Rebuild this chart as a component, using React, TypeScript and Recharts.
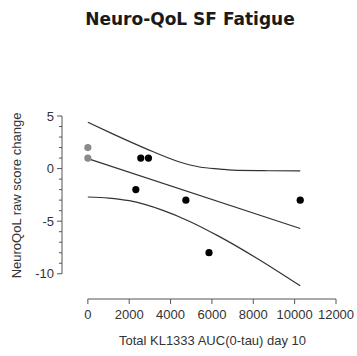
import React from 'react';
import { ComposedChart, Line, Scatter, XAxis, YAxis, ReferenceLine } from 'recharts';

// Observations (x = Total KL1333 AUC(0-tau) day 10, y = NeuroQoL raw score change)
const grayPoints = [
  { x: 0, y: 2 },
  { x: 0, y: 1 },
];
const blackPoints = [
  { x: 2320, y: -2 },
  { x: 2560, y: 1 },
  { x: 2930, y: 1 },
  { x: 4740, y: -3 },
  { x: 5860, y: -8 },
  { x: 10270, y: -3 },
];
// Regression line and its confidence band
const fitLine = [
  { x: 0, y: 0.95 },
  { x: 10270, y: -5.7 },
];
const upperBand = [
  { x: 0, y: 4.4 },
  { x: 1200, y: 3.3 },
  { x: 2800, y: 1.9 },
  { x: 4400, y: 0.65 },
  { x: 5400, y: 0.15 },
  { x: 6400, y: -0.05 },
  { x: 7000, y: -0.15 },
  { x: 8500, y: -0.2 },
  { x: 10270, y: -0.22 },
];
const lowerBand = [
  { x: 0, y: -2.7 },
  { x: 1000, y: -2.8 },
  { x: 2000, y: -3.05 },
  { x: 3600, y: -3.95 },
  { x: 4900, y: -5.0 },
  { x: 6300, y: -6.4 },
  { x: 8150, y: -8.5 },
  { x: 10270, y: -11.15 },
];
const xTicks = [0, 2000, 4000, 6000, 8000, 10000, 12000];
const yTicks = [-10, -9, -8, -7, -6, -5, -4, -3, -2, -1, 0, 1, 2, 3, 4, 5];
const yMajor = [-10, -5, 0, 5];

const X_MIN = -1250;
const X_MAX = 12000;
const Y_MIN = -12.4;
const Y_MAX = 5;

const AXIS = '#555';
const TEXT = '#333';
const FONT = '"Liberation Sans", Arial, sans-serif';

const YTick = (props: any) => {
  const { x, y, payload } = props;
  const major = yMajor.includes(payload.value);
  return (
    <g>
      <line x1={x} x2={x - (major ? 5 : 3)} y1={y} y2={y} stroke={AXIS} strokeWidth={1} />
      {major && (
        <text x={x - 8} y={y} dy="0.36em" textAnchor="end" fontSize={13} fontFamily={FONT} fill={TEXT}>
          {payload.value}
        </text>
      )}
    </g>
  );
};

const dot = (fill: string) => (props: any) => (
  <circle cx={props.cx} cy={props.cy} r={3.6} fill={fill} />
);

export default function App() {
  return (
    <div style={{ position: 'absolute', left: 0, top: 0, width: 357, height: 356 }}>
      <ComposedChart
        width={357}
        height={356}
        margin={{ top: 116, right: 21, left: 22, bottom: 7 }}
      >
        <XAxis
          type="number"
          dataKey="x"
          domain={[X_MIN, X_MAX]}
          ticks={xTicks}
          interval={0}
          allowDataOverflow
          axisLine={false}
          tickLine={{ stroke: AXIS }}
          tickSize={5}
          tickMargin={6}
          height={50}
          tick={{ fontSize: 13, fontFamily: FONT, fill: TEXT }}
        />
        <YAxis
          type="number"
          dataKey="y"
          domain={[Y_MIN, Y_MAX]}
          ticks={yTicks}
          interval={0}
          allowDataOverflow
          axisLine={false}
          tickLine={false}
          tickSize={0}
          tickMargin={0}
          width={40}
          tick={<YTick />}
        />
        <ReferenceLine
          segment={[{ x: X_MIN, y: -10 }, { x: X_MIN, y: 5 }]}
          stroke={AXIS}
          strokeWidth={1}
          ifOverflow="visible"
        />
        <ReferenceLine
          segment={[{ x: 0, y: Y_MIN }, { x: 12000, y: Y_MIN }]}
          stroke={AXIS}
          strokeWidth={1}
          ifOverflow="visible"
        />
        <Line data={upperBand} dataKey="y" type="monotone" stroke="#333" strokeWidth={1.2} dot={false} isAnimationActive={false} />
        <Line data={lowerBand} dataKey="y" type="monotone" stroke="#333" strokeWidth={1.2} dot={false} isAnimationActive={false} />
        <Line data={fitLine} dataKey="y" type="linear" stroke="#333" strokeWidth={1.2} dot={false} isAnimationActive={false} />
        <Scatter data={grayPoints} dataKey="y" shape={dot('#8a8a8a')} isAnimationActive={false} />
        <Scatter data={blackPoints} dataKey="y" shape={dot('#000')} isAnimationActive={false} />
      </ComposedChart>
      <div
        style={{
          position: 'absolute', left: 8, top: 11, width: 364, textAlign: 'center',
          fontFamily: '"DejaVu Sans", sans-serif', fontWeight: 'bold', fontSize: 17,
          lineHeight: '17px', color: '#1a1a1a', whiteSpace: 'nowrap',
        }}
      >
        Neuro-QoL SF Fatigue
      </div>
      <div
        style={{
          position: 'absolute', left: 16 - 100, top: 195 - 7.5, width: 200, height: 15,
          lineHeight: '15px', textAlign: 'center', transform: 'rotate(-90deg)',
          fontFamily: FONT, fontSize: 13, color: TEXT, whiteSpace: 'nowrap',
        }}
      >
        NeuroQoL raw score change
      </div>
      <div
        style={{
          position: 'absolute', left: 212.5 - 120, top: 332.5, width: 240,
          lineHeight: '15px', textAlign: 'center',
          fontFamily: FONT, fontSize: 13, color: TEXT, whiteSpace: 'nowrap',
        }}
      >
        Total KL1333 AUC(0-tau) day 10
      </div>
    </div>
  );
}
